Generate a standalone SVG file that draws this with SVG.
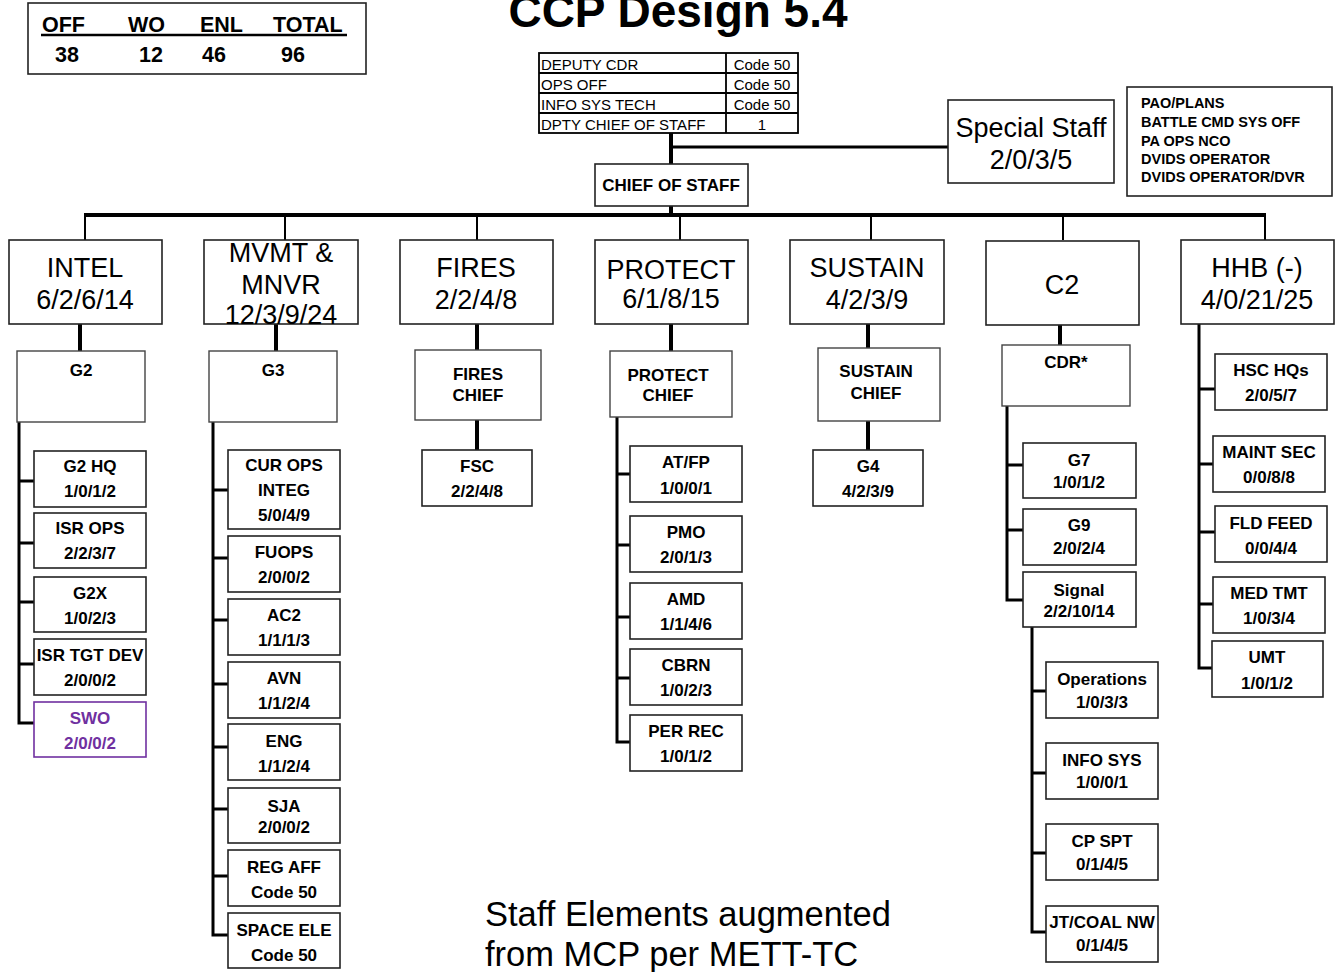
<svg xmlns="http://www.w3.org/2000/svg" width="1336" height="972" viewBox="0 0 1336 972">
<style>
text{font-family:"Liberation Sans",Arial,sans-serif;fill:#000}
.b{font-weight:bold;font-size:17px;text-anchor:middle}
.big{font-size:27px;text-anchor:middle}
.box{fill:#fff;stroke:#222;stroke-width:1.6}
.sub{fill:#fff;stroke:#444;stroke-width:1.4}
.tbl{font-size:15px}
.thick{stroke:#000;stroke-width:4;fill:none}
.med{stroke:#000;stroke-width:3;fill:none}
.thin{stroke:#000;stroke-width:2;fill:none}
.pur{fill:#7030A0}
</style>
<rect width="1336" height="972" fill="#fff"/>

<g id="totals">
<rect x="28" y="3" width="338" height="71" fill="#fff" stroke="#222" stroke-width="1.6"/>
<g font-weight="bold" font-size="21.5">
<text x="42" y="32">OFF</text><text x="128" y="32">WO</text><text x="200" y="32">ENL</text><text x="273" y="32">TOTAL</text>
<text x="55" y="62">38</text><text x="139" y="62">12</text><text x="202" y="62">46</text><text x="281" y="62">96</text>
</g>
<line x1="41" y1="35" x2="347" y2="35" stroke="#000" stroke-width="2.5"/>
</g>

<g id="title"><text x="678" y="27" font-size="46" font-weight="bold" text-anchor="middle">CCP Design 5.4</text></g>

<g id="connectors">
<line class="thick" x1="671" y1="133" x2="671" y2="164"/>
<line class="med" x1="671" y1="147" x2="948" y2="147"/>
<line class="thick" x1="671" y1="206" x2="671" y2="216"/>
<line class="thick" x1="84" y1="215" x2="1266" y2="215"/>
<line class="thin" x1="85" y1="215" x2="85" y2="240"/>
<line class="thin" x1="285" y1="215" x2="285" y2="240"/>
<line class="thin" x1="477" y1="215" x2="477" y2="240"/>
<line class="thin" x1="680" y1="215" x2="680" y2="240"/>
<line class="thin" x1="871" y1="215" x2="871" y2="240"/>
<line class="thin" x1="1063" y1="215" x2="1063" y2="240"/>
<line class="thin" x1="1265" y1="215" x2="1265" y2="240"/>
<!-- column to chief -->
<line class="thick" x1="80" y1="324" x2="80" y2="351"/>
<line class="thick" x1="276" y1="324" x2="276" y2="351"/>
<line class="thick" x1="477" y1="324" x2="477" y2="350"/>
<line class="thick" x1="477" y1="420" x2="477" y2="450"/>
<line class="thick" x1="671" y1="324" x2="671" y2="351"/>
<line class="thick" x1="868" y1="324" x2="868" y2="348"/>
<line class="thick" x1="868" y1="421" x2="868" y2="450"/>
<line class="thick" x1="1060" y1="325" x2="1060" y2="345"/>
<!-- INTEL bracket -->
<path class="med" d="M19 422 V723 H34 M19 481 H34 M19 543 H34 M19 602 H34 M19 664 H34"/>
<!-- G3 bracket -->
<path class="med" d="M213 422 V935 H228 M213 490 H228 M213 558 H228 M213 620 H228 M213 684 H228 M213 747 H228 M213 809 H228 M213 876 H228"/>
<!-- PROTECT bracket -->
<path class="med" d="M617 417 V742 H630 M617 474 H630 M617 545 H630 M617 617 H630 M617 678 H630"/>
<!-- C2 bracket -->
<path class="med" d="M1007 406 V600 H1023 M1007 465 H1023 M1007 530 H1023"/>
<!-- Signal bracket -->
<path class="med" d="M1032 627 V932 H1046 M1032 691 H1046 M1032 773 H1046 M1032 853 H1046"/>
<!-- HHB bracket -->
<path class="med" d="M1199 324 V668 H1212 M1199 389 H1215 M1199 464 H1213 M1199 532 H1215 M1199 604 H1213"/>
</g>

<g id="deputy-table">
<rect x="539" y="53" width="259" height="80" fill="#fff" stroke="#000" stroke-width="1.8"/>
<path d="M539 73 H798 M539 93 H798 M539 113 H798 M726 53 V133" stroke="#000" stroke-width="1.8" fill="none"/>
<g class="tbl">
<text x="541" y="70">DEPUTY CDR</text><text x="541" y="90">OPS OFF</text><text x="541" y="110">INFO SYS TECH</text><text x="541" y="130">DPTY CHIEF OF STAFF</text>
<g text-anchor="middle"><text x="762" y="70">Code 50</text><text x="762" y="90">Code 50</text><text x="762" y="110">Code 50</text><text x="762" y="130">1</text></g>
</g>
</g>

<g id="chief-of-staff"><rect class="box" x="595" y="164" width="153" height="42"/><text class="b" x="671" y="191">CHIEF OF STAFF</text></g>

<g id="special-staff"><rect class="box" x="948" y="100" width="166" height="83"/><text class="big" x="1031" y="137">Special Staff</text><text class="big" x="1031" y="169">2/0/3/5</text></g>

<g id="special-staff-list"><rect class="box" x="1127" y="87" width="205" height="109"/>
<g font-weight="bold" font-size="14.5"><text x="1141" y="108">PAO/PLANS</text><text x="1141" y="127">BATTLE CMD SYS OFF</text><text x="1141" y="146">PA OPS NCO</text><text x="1141" y="164">DVIDS OPERATOR</text><text x="1141" y="182">DVIDS OPERATOR/DVR</text></g></g>

<!-- Top-level boxes -->
<g id="intel"><rect class="box" x="9" y="240" width="153" height="84"/><text class="big" x="85" y="277">INTEL</text><text class="big" x="85" y="309">6/2/6/14</text></g>
<g id="mvmt"><rect class="box" x="204" y="240" width="154" height="84"/><text class="big" x="281" y="262">MVMT &amp;</text><text class="big" x="281" y="294">MNVR</text><text class="big" x="281" y="324">12/3/9/24</text></g>
<g id="fires"><rect class="box" x="400" y="240" width="153" height="84"/><text class="big" x="476" y="277">FIRES</text><text class="big" x="476" y="309">2/2/4/8</text></g>
<g id="protect"><rect class="box" x="595" y="240" width="153" height="84"/><text class="big" x="671" y="279">PROTECT</text><text class="big" x="671" y="308">6/1/8/15</text></g>
<g id="sustain"><rect class="box" x="790" y="240" width="154" height="84"/><text class="big" x="867" y="277">SUSTAIN</text><text class="big" x="867" y="309">4/2/3/9</text></g>
<g id="c2"><rect class="box" x="986" y="241" width="153" height="84"/><text class="big" x="1062" y="294">C2</text></g>
<g id="hhb"><rect class="box" x="1181" y="240" width="153" height="84"/><text class="big" x="1257" y="277">HHB (-)</text><text class="big" x="1257" y="309">4/0/21/25</text></g>

<!-- Second level -->
<g id="g2"><rect class="sub" x="17" y="351" width="128" height="71"/><text class="b" x="81" y="376">G2</text></g>
<g id="g3"><rect class="sub" x="209" y="351" width="128" height="71"/><text class="b" x="273" y="376">G3</text></g>
<g id="fires-chief"><rect class="sub" x="415" y="350" width="126" height="70"/><text class="b" x="478" y="380">FIRES</text><text class="b" x="478" y="401">CHIEF</text></g>
<g id="protect-chief"><rect class="sub" x="610" y="351" width="122" height="66"/><text class="b" x="668" y="381">PROTECT</text><text class="b" x="668" y="401">CHIEF</text></g>
<g id="sustain-chief"><rect class="sub" x="818" y="348" width="122" height="73"/><text class="b" x="876" y="377">SUSTAIN</text><text class="b" x="876" y="399">CHIEF</text></g>
<g id="cdr"><rect class="sub" x="1002" y="345" width="128" height="61"/><text class="b" x="1066" y="368">CDR*</text></g>
<g id="fsc"><rect class="box" x="422" y="450" width="110" height="56"/><text class="b" x="477" y="472">FSC</text><text class="b" x="477" y="497">2/2/4/8</text></g>
<g id="g4"><rect class="box" x="813" y="450" width="110" height="56"/><text class="b" x="868" y="472">G4</text><text class="b" x="868" y="497">4/2/3/9</text></g>

<!-- INTEL children -->
<g id="g2hq"><rect class="box" x="34" y="451" width="112" height="56"/><text class="b" x="90" y="472">G2 HQ</text><text class="b" x="90" y="497">1/0/1/2</text></g>
<g id="isrops"><rect class="box" x="34" y="513" width="112" height="55"/><text class="b" x="90" y="534">ISR OPS</text><text class="b" x="90" y="559">2/2/3/7</text></g>
<g id="g2x"><rect class="box" x="34" y="577" width="112" height="55"/><text class="b" x="90" y="599">G2X</text><text class="b" x="90" y="624">1/0/2/3</text></g>
<g id="isrtgt"><rect class="box" x="34" y="639" width="112" height="56"/><text class="b" x="90" y="661">ISR TGT DEV</text><text class="b" x="90" y="686">2/0/0/2</text></g>
<g id="swo"><rect x="34" y="702" width="112" height="55" fill="#fff" stroke="#7030A0" stroke-width="1.6"/><text class="b pur" x="90" y="724">SWO</text><text class="b pur" x="90" y="749">2/0/0/2</text></g>

<!-- G3 children -->
<g id="curops"><rect class="box" x="228" y="450" width="112" height="79"/><text class="b" x="284" y="471">CUR OPS</text><text class="b" x="284" y="496">INTEG</text><text class="b" x="284" y="521">5/0/4/9</text></g>
<g id="fuops"><rect class="box" x="228" y="536" width="112" height="56"/><text class="b" x="284" y="558">FUOPS</text><text class="b" x="284" y="583">2/0/0/2</text></g>
<g id="ac2"><rect class="box" x="228" y="599" width="112" height="56"/><text class="b" x="284" y="621">AC2</text><text class="b" x="284" y="646">1/1/1/3</text></g>
<g id="avn"><rect class="box" x="228" y="662" width="112" height="56"/><text class="b" x="284" y="684">AVN</text><text class="b" x="284" y="709">1/1/2/4</text></g>
<g id="eng"><rect class="box" x="228" y="724" width="112" height="56"/><text class="b" x="284" y="747">ENG</text><text class="b" x="284" y="772">1/1/2/4</text></g>
<g id="sja"><rect class="box" x="228" y="788" width="112" height="55"/><text class="b" x="284" y="812">SJA</text><text class="b" x="284" y="833">2/0/0/2</text></g>
<g id="regaff"><rect class="box" x="228" y="850" width="112" height="56"/><text class="b" x="284" y="873">REG AFF</text><text class="b" x="284" y="898">Code 50</text></g>
<g id="spaceele"><rect class="box" x="228" y="913" width="112" height="55"/><text class="b" x="284" y="936">SPACE ELE</text><text class="b" x="284" y="961">Code 50</text></g>

<!-- PROTECT children -->
<g id="atfp"><rect class="box" x="630" y="446" width="112" height="56"/><text class="b" x="686" y="468">AT/FP</text><text class="b" x="686" y="494">1/0/0/1</text></g>
<g id="pmo"><rect class="box" x="630" y="516" width="112" height="56"/><text class="b" x="686" y="538">PMO</text><text class="b" x="686" y="563">2/0/1/3</text></g>
<g id="amd"><rect class="box" x="630" y="583" width="112" height="56"/><text class="b" x="686" y="605">AMD</text><text class="b" x="686" y="630">1/1/4/6</text></g>
<g id="cbrn"><rect class="box" x="630" y="649" width="112" height="56"/><text class="b" x="686" y="671">CBRN</text><text class="b" x="686" y="696">1/0/2/3</text></g>
<g id="perrec"><rect class="box" x="630" y="715" width="112" height="56"/><text class="b" x="686" y="737">PER REC</text><text class="b" x="686" y="762">1/0/1/2</text></g>

<!-- C2 children -->
<g id="g7"><rect class="box" x="1023" y="443" width="113" height="55"/><text class="b" x="1079" y="466">G7</text><text class="b" x="1079" y="488">1/0/1/2</text></g>
<g id="g9"><rect class="box" x="1023" y="509" width="113" height="56"/><text class="b" x="1079" y="531">G9</text><text class="b" x="1079" y="554">2/0/2/4</text></g>
<g id="signal"><rect class="box" x="1023" y="572" width="113" height="55"/><text class="b" x="1079" y="596">Signal</text><text class="b" x="1079" y="617">2/2/10/14</text></g>
<g id="operations"><rect class="box" x="1046" y="662" width="112" height="56"/><text class="b" x="1102" y="685">Operations</text><text class="b" x="1102" y="708">1/0/3/3</text></g>
<g id="infosys"><rect class="box" x="1046" y="743" width="112" height="56"/><text class="b" x="1102" y="766">INFO SYS</text><text class="b" x="1102" y="788">1/0/0/1</text></g>
<g id="cpspt"><rect class="box" x="1046" y="824" width="112" height="56"/><text class="b" x="1102" y="847">CP SPT</text><text class="b" x="1102" y="870">0/1/4/5</text></g>
<g id="jtcoal"><rect class="box" x="1046" y="906" width="112" height="56"/><text class="b" x="1102" y="928">JT/COAL NW</text><text class="b" x="1102" y="951">0/1/4/5</text></g>

<!-- HHB children -->
<g id="hschqs"><rect class="box" x="1215" y="354" width="112" height="56"/><text class="b" x="1271" y="376">HSC HQs</text><text class="b" x="1271" y="401">2/0/5/7</text></g>
<g id="maintsec"><rect class="box" x="1213" y="436" width="112" height="56"/><text class="b" x="1269" y="458">MAINT SEC</text><text class="b" x="1269" y="483">0/0/8/8</text></g>
<g id="fldfeed"><rect class="box" x="1215" y="506" width="112" height="56"/><text class="b" x="1271" y="529">FLD FEED</text><text class="b" x="1271" y="554">0/0/4/4</text></g>
<g id="medtmt"><rect class="box" x="1213" y="577" width="112" height="56"/><text class="b" x="1269" y="599">MED TMT</text><text class="b" x="1269" y="624">1/0/3/4</text></g>
<g id="umt"><rect class="box" x="1212" y="641" width="111" height="56"/><text class="b" x="1267" y="663">UMT</text><text class="b" x="1267" y="689">1/0/1/2</text></g>

<g id="note"><text x="485" y="926" font-size="34.5">Staff Elements augmented</text><text x="485" y="966" font-size="34.5">from MCP per METT-TC</text></g>
</svg>
